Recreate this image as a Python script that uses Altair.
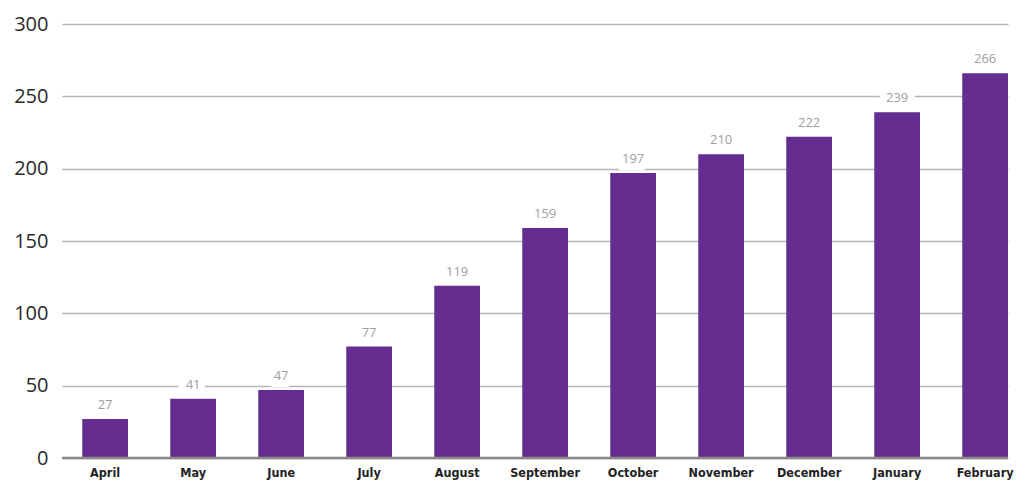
import altair as alt
import pandas as pd

months = ["April", "May", "June", "July", "August", "September", "October",
          "November", "December", "January", "February"]
values = [27, 41, 47, 77, 119, 159, 197, 210, 222, 239, 266]
y_ticks = [0, 50, 100, 150, 200, 250, 300]

df = pd.DataFrame({"month": months, "value": values})

y_scale = alt.Scale(domain=[0, 300], nice=False)
y_axis = alt.Axis(values=y_ticks, ticks=False, domain=False, grid=True,
                  gridColor="#b4b4b4", gridWidth=1.6,
                  labelFont="Open Sans", labelFontSize=20, labelColor="#2a2a2a",
                  labelPadding=14)

x = alt.X("month:N", sort=months, title=None,
          scale=alt.Scale(paddingInner=0.48, paddingOuter=0.115, align=1),
          axis=alt.Axis(labelAngle=0, ticks=False, domain=False,
                        labelFont="DejaVu Sans Condensed",
                        labelFontWeight="bold", labelFontSize=12.5, labelColor="#222",
                        labelPadding=8))
y = alt.Y("value:Q", title=None, scale=y_scale, axis=y_axis)

base = alt.Chart(df).encode(x=x, y=y)

bars = base.mark_bar(color="#662d91")

zero = alt.Chart(pd.DataFrame({"value": [0]})).mark_rule(
    color="#8a8a8a", strokeWidth=2.5).encode(
    y=alt.Y("value:Q", title=None, scale=y_scale, axis=y_axis))

halo = base.mark_text(baseline="bottom", dy=-7, fontSize=13, font="Open Sans",
                      stroke="white", strokeWidth=14, color="white").encode(text="value:Q")
labels = base.mark_text(baseline="bottom", dy=-7, fontSize=13, font="Open Sans",
                        color="#a0a0a0").encode(text="value:Q")

chart = alt.layer(bars, zero, halo, labels).properties(
    width=946, height=434,
    background="white",
    autosize=alt.AutoSizeParams(type="none"),
    padding={"left": 54, "top": 16, "right": 6, "bottom": 22},
).configure_view(stroke=None)

chart.save("out.html", embed_options={"renderer": "svg", "actions": False})
